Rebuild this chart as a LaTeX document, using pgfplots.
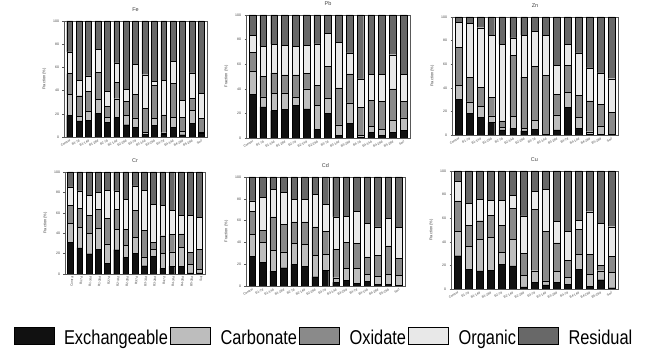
\documentclass[border=0pt]{standalone}
\usepackage{fontspec}
\setmainfont{Liberation Sans}
\usepackage{graphicx}
\usepackage{pgfplots}
\usepackage{pgfplotstable}
\pgfplotsset{compat=1.18}

\definecolor{cEx}{HTML}{111111}
\definecolor{cCa}{HTML}{BDBDBD}
\definecolor{cOx}{HTML}{8A8A8A}
\definecolor{cOr}{HTML}{E8E8E8}
\definecolor{cRe}{HTML}{686868}

\pgfplotstableread{
x ex ca ox or re
1 18.7 17.8 18.1 18.7 26.7
2 13.8 4.0 17.8 13.3 51.1
3 14.4 7.7 17.0 13.5 47.4
4 20.4 12.1 23.2 19.6 24.7
5 12.9 4.3 9.2 13.0 60.6
6 16.7 16.3 14.4 16.4 36.2
7 10.6 8.1 12.3 9.8 59.2
8 8.6 7.8 20.4 25.6 37.6
9 2.3 2.0 20.4 29.0 46.3
10 9.8 6.0 28.5 3.7 52.0
11 2.3 1.4 15.3 29.9 51.1
12 8.3 8.4 29.3 19.5 34.5
13 2.0 2.9 11.8 14.9 68.4
14 11.5 11.5 10.3 21.9 44.8
15 2.9 1.4 11.5 21.6 62.6
}\tFe

\pgfplotstableread{
x ex ca ox or re
1 35.3 19.0 15.5 13.9 16.3
2 25.3 8.1 16.9 24.4 25.3
3 22.3 13.8 16.9 23.1 23.9
4 23.1 13.6 14.7 24.1 24.5
5 26.4 7.0 18.0 23.3 25.3
6 23.6 16.3 12.8 22.6 24.7
7 7.3 19.1 16.5 33.7 23.4
8 19.8 12.3 26.3 26.6 15.0
9 2.2 8.4 30.2 37.2 22.0
10 11.7 16.8 23.7 17.1 30.7
11 0.8 1.1 23.1 23.1 51.9
12 4.6 4.9 21.2 20.9 48.4
13 1.9 4.9 22.8 22.0 48.4
14 4.6 9.8 25.5 27.8 32.3
15 6.0 10.3 13.6 21.7 48.4
}\tPb

\pgfplotstableread{
x ex ca ox or re
1 30.4 11.6 32.4 20.8 4.8
2 18.5 9.6 20.8 45.7 5.4
3 15.0 9.1 16.2 50.6 9.1
4 10.5 5.7 15.9 52.3 15.6
5 4.3 2.0 5.6 64.8 23.3
6 5.7 9.9 51.7 15.1 17.6
7 3.4 2.3 43.4 35.6 15.3
8 4.8 7.4 46.0 29.9 11.9
9 0.0 0.3 50.0 34.4 15.3
10 4.3 12.7 17.7 24.4 40.9
11 23.6 12.5 22.7 17.9 23.3
12 5.7 9.3 18.8 35.8 30.4
13 0.6 2.2 26.2 27.8 43.2
14 0.3 7.4 18.4 26.5 47.4
15 0.0 0.3 18.7 28.7 52.3
}\tZn

\pgfplotstableread{
x ex ca ox or re
1 30.9 18.6 17.9 17.9 14.7
2 25.7 19.9 18.6 17.2 18.6
3 19.9 19.8 18.0 19.5 22.8
4 24.4 20.2 18.6 16.6 20.2
5 10.4 19.2 24.8 27.7 17.9
6 23.8 20.2 19.2 18.2 18.6
7 16.3 12.0 15.7 29.3 26.7
8 20.5 15.7 26.3 23.8 13.7
9 8.1 8.8 26.1 39.1 17.9
10 17.3 6.8 6.8 37.2 31.9
11 5.5 14.7 17.3 29.9 32.6
12 7.8 14.0 17.3 23.4 37.5
13 7.8 18.6 13.0 18.3 42.3
14 1.0 8.4 11.8 36.5 42.3
15 1.0 3.9 19.5 31.0 44.6
}\tCr

\pgfplotstableread{
x ex ca ox or re
1 27.4 20.2 21.0 9.4 22.0
2 21.6 18.3 11.3 29.9 18.9
3 13.7 19.2 30.5 25.0 11.6
4 16.8 14.6 25.0 29.3 14.3
5 19.8 19.2 19.8 20.5 20.7
6 18.3 20.1 20.4 20.5 20.7
7 8.5 19.9 25.9 29.5 16.2
8 14.6 14.4 21.3 24.7 25.0
9 3.4 4.2 25.9 29.9 36.6
10 4.9 11.3 23.7 24.1 36.0
11 2.4 13.8 22.8 29.6 31.4
12 4.0 6.7 16.1 30.5 42.7
13 1.8 7.3 19.3 25.9 45.7
14 1.8 8.9 26.2 25.0 38.1
15 0.6 8.9 16.1 28.1 46.3
}\tCd

\pgfplotstableread{
x ex ca ox or re
1 28.2 20.7 25.7 16.4 9.0
2 16.9 19.5 17.3 18.9 27.4
3 15.3 26.8 15.8 18.1 24.0
4 16.1 27.7 18.9 12.2 25.1
5 20.9 9.9 23.4 21.2 24.6
6 19.5 22.6 26.3 10.7 20.9
7 1.7 9.6 18.9 31.7 38.1
8 5.6 9.9 52.0 15.0 17.5
9 3.4 3.4 41.8 35.6 15.8
10 5.4 9.3 24.3 18.1 42.9
11 3.7 5.9 14.7 24.3 51.4
12 16.9 12.5 21.4 7.4 41.8
13 2.3 10.4 16.7 36.1 34.5
14 7.9 7.6 4.8 35.3 44.4
15 1.1 13.0 13.3 25.4 47.2
}\tCu

\pgfplotsset{
  panel/.style={
    scale only axis, anchor=south west,
    ybar stacked, bar width=0.62,
    xmin=0.4, xmax=15.6, ymin=0, ymax=100,
    ytick={0,20,40,60,80,100},
    xtick={1,...,15},
    xticklabels={Control,B1-7d,B1-14d,B1-28d,B2-7d,B2-14d,B2-28d,B3-7d,B3-14d,B3-28d,B4-7d,B4-14d,B4-28d,B5-28d,Soil},
    tick label style={font=\fontsize{3.5}{4}\selectfont, text=black!75},
    x tick label style={rotate=30, anchor=north east, inner sep=0.5pt, font=\fontsize{3.2}{4}\selectfont},
    ylabel={Fraction (\%)},
    ylabel style={font=\fontsize{4}{4}\selectfont, text=black!75},
    title style={font=\fontsize{5.5}{6}\selectfont, text=black!75, yshift=0pt},
    axis line style={draw=black!65, line width=0.4pt},
    ytick style={draw=black!65, line width=0.3pt},
    xtick style={draw=none},
    major tick length=1.5pt,
    tick align=outside, ytick pos=left,
    /pgf/number format/assume math mode=true,
  },
  seg/.style={draw=black, line width=0.35pt, fill=#1,
    legend image code/.code={\draw[draw=black, line width=0.5pt, fill=#1] (0pt,-2.5pt) rectangle (40pt,14.5pt);}},
}

\newcommand{\stackplots}[1]{%
  \addplot[seg=cEx] table[x=x,y=ex]{#1};
  \addplot[seg=cCa] table[x=x,y=ca]{#1};
  \addplot[seg=cOx] table[x=x,y=ox]{#1};
  \addplot[seg=cOr] table[x=x,y=or]{#1};
  \addplot[seg=cRe] table[x=x,y=re]{#1};
}
\newcommand{\legtext}[1]{\raisebox{6pt}{\scalebox{0.82}[1]{#1}}}

\begin{document}
\begin{tikzpicture}[x=1pt,y=1pt]
\useasboundingbox (0,0) rectangle (659,351);

\begin{axis}[panel, at={(64pt,214pt)}, width=143pt, height=116pt, title={Fe}]
\stackplots{\tFe}
\end{axis}

\begin{axis}[panel, at={(246pt,213pt)}, width=164pt, height=123pt, title={Pb}]
\stackplots{\tPb}
\end{axis}

\begin{axis}[panel, at={(452pt,216pt)}, width=166pt, height=118pt, title={Zn}]
\stackplots{\tZn}
\end{axis}

\begin{axis}[panel, at={(65pt,77pt)}, width=140pt, height=102pt, title={Cr},
  x tick label style={rotate=55, anchor=north east, inner sep=0.5pt}]
\stackplots{\tCr}
\end{axis}

\begin{axis}[panel, at={(246pt,65pt)}, width=159pt, height=109pt, title={Cd},
  legend style={at={(0.484,-0.49)}, anchor=center, draw=none, fill=none,
    legend columns=5, font=\fontsize{20}{22}\selectfont,
    nodes={inner sep=0pt},
    /tikz/every odd column/.append style={column sep=10pt},
    /tikz/every even column/.append style={column sep=2pt}}]
\stackplots{\tCd}
\addlegendentry{\legtext{Exchangeable}}
\addlegendentry{\legtext{Carbonate}}
\addlegendentry{\legtext{Oxidate}}
\addlegendentry{\legtext{Organic}}
\addlegendentry{\legtext{Residual}}
\end{axis}

\begin{axis}[panel, at={(451pt,62pt)}, width=167pt, height=118pt, title={Cu}]
\stackplots{\tCu}
\end{axis}

\end{tikzpicture}
\end{document}
